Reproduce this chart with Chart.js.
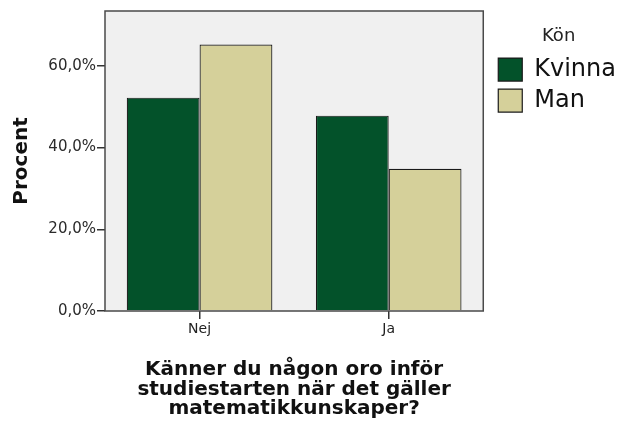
<!DOCTYPE html>
<html>
<head>
<meta charset="utf-8">
<script src="https://cdn.jsdelivr.net/npm/chart.js@4/dist/chart.umd.min.js"></script>
<style>
  html, body { margin: 0; padding: 0; background: #fff; }
  #wrap { width: 618px; height: 428px; }
</style>
</head>
<body>
<div id="wrap"><canvas id="myChart"></canvas></div>
<script>
// answers and percent per gender
var xValues = ["Nej", "Ja"];
var kvinnaValues = [52.2, 47.8];
var manValues = [65.2, 34.8];
var yTicks = [0, 20, 40, 60];
var seriesNames = ["Kvinna", "Man"];
var barColors = ["#03522a", "#d5d09a"];

var font = "'DejaVu Sans', Verdana, sans-serif";

// grey plot background + dark frame around chart area
var framePlugin = {
  id: "frame",
  afterLayout: function (chart) {
    // nudge the legend a little to the right, like the original
    chart.legend.left += 8;
    chart.legend.right += 8;
  },
  beforeDatasetsDraw: function (chart) {
    var a = chart.chartArea, ctx = chart.ctx;
    ctx.save();
    ctx.fillStyle = "#f0f0f0";
    ctx.fillRect(a.left, a.top, a.right - a.left, a.bottom - a.top);
    ctx.restore();
  },
  afterDatasetsDraw: function (chart) {
    var a = chart.chartArea, ctx = chart.ctx;
    ctx.save();
    ctx.strokeStyle = "#4a4a4a";
    ctx.lineWidth = 1.5;
    ctx.strokeRect(a.left, a.top, a.right - a.left, a.bottom - a.top);
    ctx.restore();
  }
};

new Chart("myChart", {
  type: "bar",
  data: {
    labels: xValues,
    datasets: [{
      label: seriesNames[0],
      data: kvinnaValues,
      backgroundColor: barColors[0],
      borderColor: "#1a1a1a",
      borderWidth: 1.2
    }, {
      label: seriesNames[1],
      data: manValues,
      backgroundColor: barColors[1],
      borderColor: "#1a1a1a",
      borderWidth: 1.2
    }]
  },
  plugins: [framePlugin],
  options: {
    responsive: true,
    maintainAspectRatio: false,
    animation: false,
    layout: { padding: { top: 11, left: 0, right: 0, bottom: 4 } },
    datasets: { bar: { categoryPercentage: 0.77, barPercentage: 1.0 } },
    scales: {
      x: {
        grid: { display: true, drawOnChartArea: false, offset: false, tickLength: 8, color: "#333", lineWidth: 1.5 },
        border: { display: false },
        ticks: { color: "#222", font: { family: font, size: 14 }, padding: 2 },
        title: {
          display: true,
          text: ["Känner du någon oro inför", "studiestarten när det gäller", "matematikkunskaper?"],
          color: "#111",
          font: { family: font, size: 20, weight: "bold", lineHeight: 0.98 },
          padding: { top: 5, bottom: 5 }
        },
        afterFit: function (scale) { scale.height = 113; }
      },
      y: {
        min: 0,
        max: 73.4,
        afterBuildTicks: function (scale) {
          scale.ticks = yTicks.map(function (v) { return { value: v }; });
        },
        grid: { display: true, drawOnChartArea: false, tickLength: 8, color: "#333", lineWidth: 1.5 },
        border: { display: false },
        ticks: {
          color: "#2a2a2a",
          font: { family: font, size: 15 },
          padding: 1,
          callback: function (v) { return v.toFixed(1).replace(".", ",") + "%"; }
        },
        title: {
          display: true,
          text: "Procent",
          color: "#111",
          font: { family: font, size: 20, weight: "bold" },
          padding: { top: 10, bottom: 6 }
        },
        afterFit: function (scale) { scale.width = 105; }
      }
    },
    plugins: {
      legend: {
        position: "right",
        align: "start",
        title: {
          display: true,
          text: "Kön",
          color: "#222",
          font: { family: font, size: 18 },
          padding: { top: 16, bottom: 2 }
        },
        labels: {
          color: "#111",
          font: { family: font, size: 24 },
          boxWidth: 24,
          boxHeight: 23,
          padding: 7,
          useBorderRadius: false
        }
      },
      tooltip: { enabled: false }
    }
  }
});
</script>
</body>
</html>
